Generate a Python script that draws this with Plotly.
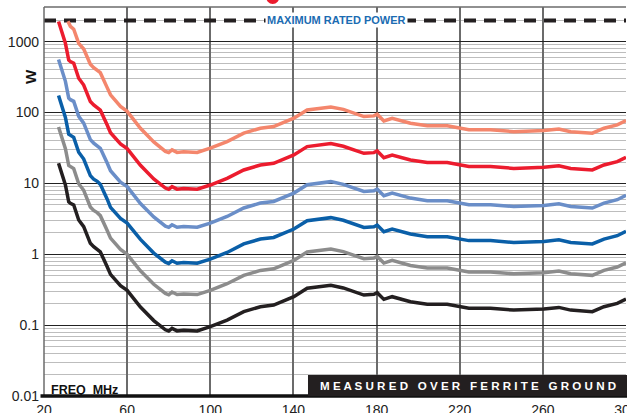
import plotly.graph_objects as go

# Frequency sweep (MHz) shared by all six power curves
freq_mhz = [27, 28.5, 30.3, 31.9, 32.7, 34.3, 36.7, 39.1, 42.3, 43.9, 45.6, 47.1,
            50.4, 52, 56.8, 60, 66.4, 72.8, 78.4, 80, 81.6, 84, 87.2, 93.7, 100,
            108.1, 116.1, 124.1, 130.5, 140.2, 146.6, 153, 158, 164, 173.9, 178.7,
            180.3, 183.5, 187.5, 196.3, 204.4, 214, 224.4, 234.8, 246, 260.5, 267.7,
            273.4, 283.8, 289.4, 295.8, 300]

# Power in watts for each curve
black_w = [19.3, 14.2, 9.5, 5.5, 5.25, 4.97, 3.05, 2.45, 1.43, 1.28, 1.19, 1.08,
           0.668, 0.52, 0.36, 0.31, 0.18, 0.116, 0.086, 0.0826, 0.090, 0.083, 0.085, 0.083, 0.095,
           0.118, 0.155, 0.182, 0.192, 0.252, 0.331, 0.349, 0.365, 0.335, 0.266, 0.272,
           0.287, 0.231, 0.252, 0.214, 0.197, 0.197, 0.173, 0.173, 0.163, 0.169, 0.178,
           0.163, 0.155, 0.182, 0.203, 0.234]
gray_w = [62.7, 46.2, 30.9, 17.9, 17.1, 16.2, 9.9, 8.0, 4.65, 4.16, 3.87, 3.51,
          2.17, 1.69, 1.17, 1.0, 0.585, 0.377, 0.28, 0.268, 0.293, 0.27, 0.276, 0.27, 0.309,
          0.384, 0.504, 0.592, 0.624, 0.819, 1.08, 1.13, 1.19, 1.09, 0.865, 0.884,
          0.933, 0.751, 0.819, 0.696, 0.64, 0.64, 0.562, 0.562, 0.53, 0.549, 0.579,
          0.53, 0.504, 0.592, 0.66, 0.76]
dblue_w = [174, 128, 85.5, 49.5, 47.3, 44.7, 27.5, 22.1, 12.9, 11.5, 10.7, 9.7,
           6.0, 4.6, 3.2, 2.75, 1.62, 1.04, 0.775, 0.743, 0.81, 0.747, 0.765, 0.747, 0.855,
           1.06, 1.40, 1.64, 1.73, 2.27, 2.98, 3.14, 3.29, 3.02, 2.39, 2.45,
           2.58, 2.08, 2.27, 1.93, 1.77, 1.77, 1.56, 1.56, 1.47, 1.52, 1.6,
           1.47, 1.40, 1.64, 1.83, 2.11]
lblue_w = [560, 412, 276, 160, 152, 144, 88.5, 71, 41.5, 37.1, 34.5, 31.3,
           19.4, 15.1, 10.4, 9.0, 5.2, 3.36, 2.49, 2.40, 2.61, 2.41, 2.47, 2.41, 2.76,
           3.42, 4.5, 5.28, 5.57, 7.31, 9.6, 10.1, 10.6, 9.7, 7.71, 7.89,
           8.32, 6.7, 7.31, 6.21, 5.71, 5.71, 5.02, 5.02, 4.73, 4.9, 5.16,
           4.73, 4.5, 5.28, 5.89, 6.79]
red_w = [1930, 1420, 950, 550, 525, 497, 305, 245, 143, 128, 119, 108,
         66.8, 52, 36, 31, 18, 11.6, 8.6, 8.26, 9.0, 8.3, 8.5, 8.3, 9.5,
         11.8, 15.5, 18.2, 19.2, 25.2, 33.1, 34.9, 36.5, 33.5, 26.6, 27.2,
         28.7, 23.1, 25.2, 21.4, 19.7, 19.7, 17.3, 17.3, 16.3, 16.9, 17.8,
         16.3, 15.5, 18.2, 20.3, 23.4]
salmon_freq_mhz = [31.5, 32.7, 34.3, 36.7, 39.1, 42.3, 43.9, 45.6, 47.1,
                   50.4, 52, 56.8, 60, 66.4, 72.8, 78.4, 80, 81.6, 84, 87.2, 93.7, 100,
                   108.1, 116.1, 124.1, 130.5, 140.2, 146.6, 153, 158, 164, 173.9, 178.7,
                   180.3, 183.5, 187.5, 196.3, 204.4, 214, 224.4, 234.8, 246, 260.5, 267.7,
                   273.4, 283.8, 289.4, 295.8, 300]
salmon_w = [1950, 1650, 1500, 950, 790, 480, 430, 400, 365,
            225, 178, 122, 104, 60, 38.5, 28.3, 27.3, 29.7, 27.4, 28.1, 27.4, 31.4,
            38.9, 51.2, 60.1, 63.4, 83.2, 109, 115, 120, 111, 87.8, 89.8,
            94.7, 76.2, 83.2, 70.6, 65, 65, 57.1, 57.1, 53.8, 55.8, 58.7,
            53.8, 51.2, 60.1, 67, 77.2]

MAX_RATED_W = 2000

x_ticks = [20, 60, 100, 140, 180, 220, 260, 300]
y_ticks = [0.01, 0.1, 1, 10, 100, 1000]
y_tick_text = ["0.01", "0.1", "1", "10", "100", "1000"]
y_minor = [m * d for d in (0.01, 0.1, 1, 10, 100, 1000) for m in range(2, 10)]

FONT = "Liberation Sans, Arial, sans-serif"

series = [
    (salmon_freq_mhz, salmon_w, "#f4866c"),
    (freq_mhz, red_w, "#ec1c2e"),
    (freq_mhz, lblue_w, "#6a8ec8"),
    (freq_mhz, dblue_w, "#0a5fa8"),
    (freq_mhz, gray_w, "#8c8c8c"),
    (freq_mhz, black_w, "#231f20"),
]

fig = go.Figure()

# Maximum rated power reference line
fig.add_trace(go.Scatter(
    x=[x_ticks[0], x_ticks[-1]], y=[MAX_RATED_W, MAX_RATED_W], mode="lines",
    line=dict(color="#231f20", width=4, dash="12px,8px"), hoverinfo="skip",
))

for fx, fy, color in series:
    fig.add_trace(go.Scatter(
        x=fx, y=fy, mode="lines",
        line=dict(color=color, width=3.5, shape="linear"),
    ))

shapes = [
    # left and top frame
    dict(type="line", xref="paper", yref="paper", x0=0, x1=0, y0=0, y1=1,
         line=dict(color="#6b6b6b", width=1.5)),
    dict(type="line", xref="paper", yref="paper", x0=0, x1=1, y0=1, y1=1,
         line=dict(color="#6b6b6b", width=1.5)),
    # heavy baseline
    dict(type="line", xref="paper", yref="paper", x0=-0.006, x1=1.01, y0=0, y1=0,
         line=dict(color="#111111", width=3.5)),
    # dark banner at the bottom right
    dict(type="rect", xref="paper", yref="paper", x0=0.4536, x1=1.01, y0=0, y1=0.054,
         fillcolor="#231f20", line=dict(width=0), layer="above"),
    # red legend marker at the top edge
    dict(type="circle", xref="paper", yref="paper", x0=0.381, x1=0.405, y0=1.0075, y1=1.05,
         fillcolor="#ec1c2e", line=dict(width=0)),
]

banner = "   ".join(" ".join(word) for word in "MEASURED OVER FERRITE GROUND".split())

annotations = [
    dict(x=160.5, y=3.301, xref="x", yref="y", text="<b>MAXIMUM RATED POWER</b>",
         showarrow=False, bgcolor="white", borderpad=1,
         font=dict(family=FONT, size=11, color="#1b6cb2")),
    dict(x=-0.024, y=0.82, xref="paper", yref="paper", text="<b>W</b>",
         xanchor="center", yanchor="middle",
         showarrow=False, textangle=-90,
         font=dict(family=FONT, size=15, color="#111111")),
    dict(x=22.6, y=-1.91, xref="x", yref="y", text="<b>FREQ  MHz</b>", xanchor="left",
         showarrow=False, font=dict(family=FONT, size=12.5, color="#111111")),
    dict(x=0.7285, y=0.028, xref="paper", yref="paper", text="<b>" + banner + "</b>",
         xanchor="center", yanchor="middle",
         showarrow=False, font=dict(family=FONT, size=11.6, color="white")),
]

fig.update_layout(
    width=627, height=413,
    margin=dict(l=44, r=1, t=7, b=17, autoexpand=False),
    paper_bgcolor="white", plot_bgcolor="white",
    showlegend=False,
    shapes=shapes,
    annotations=annotations,
    xaxis=dict(
        range=[20, 300], tickmode="array", tickvals=x_ticks,
        showgrid=True, gridcolor="#6b6b6b", gridwidth=1.5,
        zeroline=False, showline=False, ticks="", ticklabelstandoff=4,
        ticklabeloverflow="allow", automargin=False,
        tickfont=dict(family=FONT, size=14, color="#222222"),
    ),
    yaxis=dict(
        type="log", range=[-2, 3.49], tickmode="array",
        tickvals=y_ticks, ticktext=y_tick_text,
        showgrid=True, gridcolor="#222222", gridwidth=1.2,
        zeroline=False, showline=False, ticks="", ticklabelstandoff=4,
        automargin=False,
        tickfont=dict(family=FONT, size=14, color="#222222"),
        minor=dict(tickmode="array", tickvals=y_minor, showgrid=True,
                   gridcolor="#bdbdbd", gridwidth=1.2, ticks=""),
    ),
)

fig.write_html("out.html", config={"displayModeBar": False})
